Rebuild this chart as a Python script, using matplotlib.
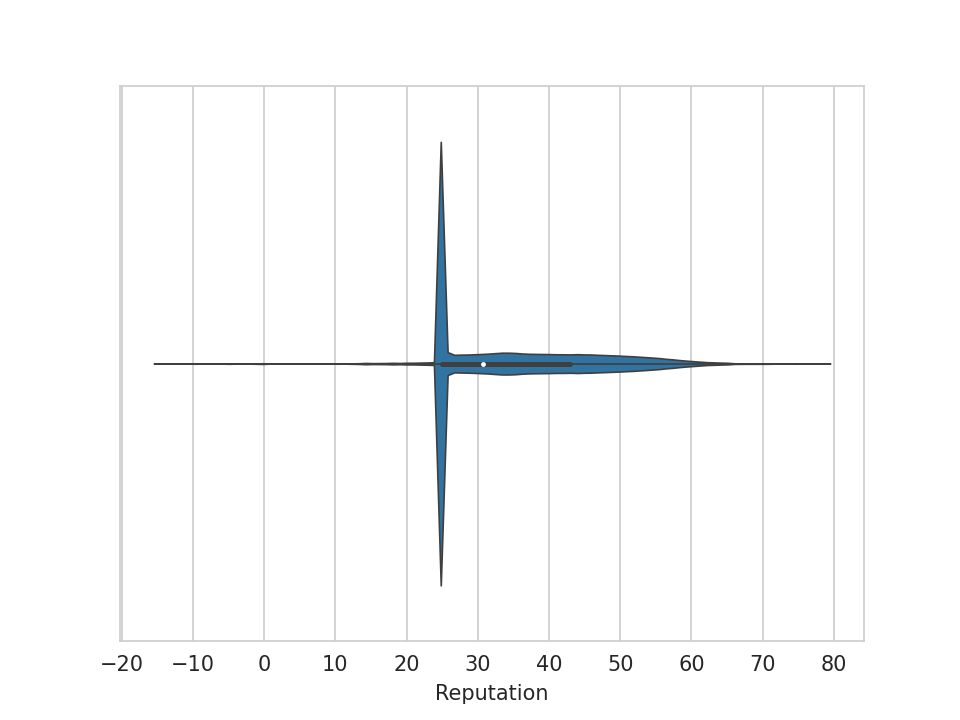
import numpy as np
import pandas as pd
import matplotlib
matplotlib.use("Agg")
import matplotlib.pyplot as plt
from matplotlib.ticker import MultipleLocator
import seaborn as sns

# Reputation values and how many players have each one
low_values = [-15, -12, -10, -5, -1, 0, 5, 8, 10, 12, 13, 14, 15, 16, 17, 18, 19, 20, 21, 22, 23, 24]
low_counts = [1, 1, 1, 1, 1, 2, 1, 1, 2, 2, 3, 5, 3, 3, 3, 4, 3, 4, 4, 5, 6, 8]

spike_value = 25
spike_count = 1471

tail_values = [25.5, 26, 26.5, 27, 27.5, 28, 28.5, 29, 29.5, 30, 30.5,
               31, 31.5, 32, 32.5, 33, 33.5, 34, 34.5, 35, 35.5, 36, 36.5, 37, 37.5,
               38, 38.5, 39, 39.5, 40, 40.5, 41, 41.5, 42, 42.5, 43,
               43.5, 44, 44.5, 45, 45.5, 46, 46.5, 47, 47.5, 48, 48.5, 49, 49.5, 50,
               50.5, 51, 51.5, 52, 52.5, 53, 53.5, 54, 54.5, 55, 55.5, 56,
               56.5, 57, 57.5, 58, 58.5, 59, 59.5, 60, 60.5, 61, 61.5, 62, 62.5,
               63, 63.5, 64, 64.5, 65, 65.5, 66, 66.5, 67, 68, 69, 70, 71, 75, 79]
tail_counts = [34, 34, 34, 35, 35, 35, 35, 36, 36, 36, 37,
               37, 38, 39, 40, 41, 42, 42, 42, 42, 41, 40, 39, 39, 38,
               38, 38, 38, 37, 37, 37, 36, 36, 36, 35, 35,
               36, 36, 36, 35, 35, 35, 34, 34, 34, 33, 33, 32, 32, 31,
               30, 30, 29, 28, 27, 26, 25, 24, 23, 22, 21, 20,
               18, 17, 16, 15, 13, 12, 11, 10, 9, 8, 7, 6, 5,
               5, 4, 4, 3, 3, 3, 1, 1, 1, 1, 1, 1, 1, 1, 1]

values = np.concatenate([
    np.repeat(low_values, low_counts),
    np.repeat([spike_value], spike_count),
    np.repeat(tail_values, tail_counts),
]).astype(float)
reputation = pd.Series(values, name="Reputation")

sns.set_style("whitegrid")
fig = plt.figure(figsize=(6.4, 4.8), dpi=150)

# narrow kernel so the spike at 25 stays thin
bw = 0.25 / np.std(values, ddof=1)
ax = sns.violinplot(x=reputation, bw_method=bw, linewidth=0.8,
                    inner_kws=dict(box_width=2.4, whis_width=0.8, marker="o", markersize=1.8))
ax.xaxis.set_major_locator(MultipleLocator(10))

plt.savefig("out.png", dpi=150)
